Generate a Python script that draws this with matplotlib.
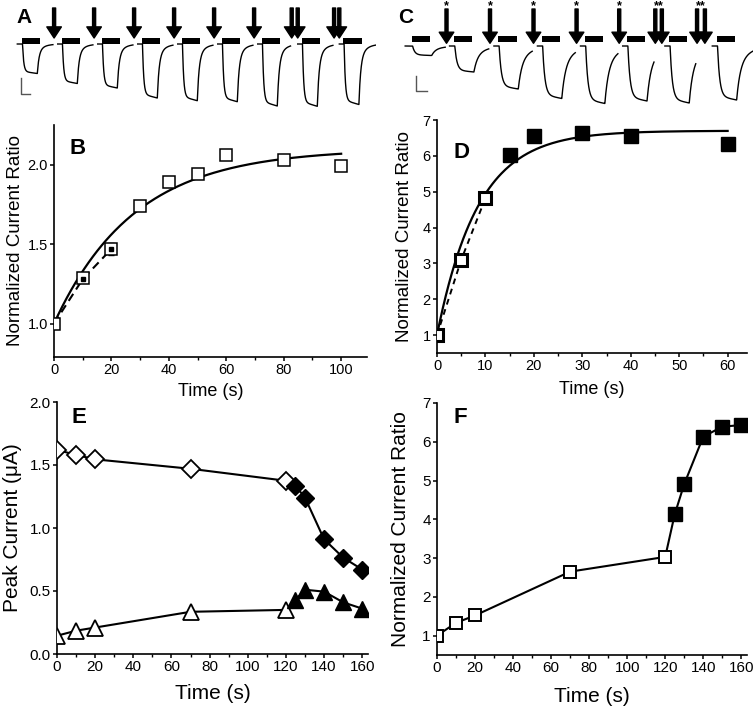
import numpy as np
import matplotlib
matplotlib.use("Agg")
import matplotlib.pyplot as plt
from matplotlib.ticker import MultipleLocator, FormatStrFormatter

plt.rcParams["font.family"] = ["Liberation Sans", "DejaVu Sans"]

# ---------------- data ----------------
# A / C: current traces, one entry per agonist application (depth in trace units)
a_onset = [0, 1, 2, 3, 4, 5, 6, 7, 8.04]
a_depth = [29.5, 39.5, 44, 54, 56.7, 57.7, 62, 62.3, 60.5]
a_pulses = [[-0.19], [-0.19], [-0.19], [-0.19], [-0.19], [-0.19], [-0.25, -0.10], [-0.23, -0.10]]

c_onset = [0, 0.97, 1.99, 2.99, 3.98, 4.95, 5.92, 7.01]
c_depth = [9.5, 26, 43, 52.5, 57.5, 55, 57, 54]
c_pulses = [[-0.17], [-0.19], [-0.19], [-0.19], [-0.18], [-0.32, -0.17], [-0.45, -0.27]]

# B
b_t = [0, 10, 20, 30, 40, 50, 60, 80, 100]
b_ratio = [1.0, 1.29, 1.47, 1.74, 1.89, 1.94, 2.06, 2.03, 1.99]
b_init_t = [0, 10, 20]
b_init_ratio = [1.0, 1.28, 1.47]
b_init_err = [0.0, 0.02, 0.04]
b_fit_amp, b_fit_tau = 1.10, 28.0

# D
d_t = [0, 5, 10, 15, 20, 30, 40, 60]
d_ratio = [1.0, 3.1, 4.82, 6.03, 6.56, 6.63, 6.56, 6.32]
d_fit_amp, d_fit_tau = 5.7, 8.5

# E / F
ef_t = [0, 10, 20, 70, 120, 125, 130, 140, 150, 160]
e_diamond = [1.62, 1.58, 1.545, 1.47, 1.375, 1.335, 1.24, 0.91, 0.765, 0.67]
e_triangle = [0.145, 0.185, 0.21, 0.335, 0.35, 0.43, 0.51, 0.495, 0.41, 0.36]
f_ratio = [1.0, 1.33, 1.52, 2.65, 3.03, 4.13, 4.91, 6.13, 6.39, 6.43]
n_open = 5

W, H = 753, 709
fig = plt.figure(figsize=(W / 100, H / 100), dpi=100)


def px_axes(l, r, t, b):
    return fig.add_axes([l / W, 1 - b / H, (r - l) / W, (b - t) / H])


def sweep(u, depth, t_off, tau_on, tau_fast, tau_slow, frac_fast):
    y = np.zeros_like(u)
    on = (u >= 0) & (u < t_off)
    y[on] = -depth * (1 - np.exp(-u[on] / tau_on)) * (0.93 + 0.07 * u[on] / t_off)
    off = u >= t_off
    y_end = -depth * (1 - np.exp(-t_off / tau_on))
    du = u[off] - t_off
    y[off] = y_end * (frac_fast * np.exp(-du / tau_fast) + (1 - frac_fast) * np.exp(-du / tau_slow))
    return y


def draw_traces(ax, onset, depth, pulses, bar_w, bar_y, arrow_y, seg, shape, stars):
    for i, (s, d) in enumerate(zip(onset, depth)):
        end = onset[i + 1] + min(pulses[i]) - 0.03 if i + 1 < len(onset) else ax.get_xlim()[1]
        start = s + seg[0] if i == 0 else s - 0.1
        t = np.linspace(start, end, 400)
        ax.plot(t, sweep(t - s - 0.02, d, *shape), color="black", lw=1.0)
        ax.add_patch(plt.Rectangle((s, bar_y[0]), bar_w, bar_y[1] - bar_y[0], color="black", lw=0))
    for i, pl in enumerate(pulses):
        for p in pl:
            x = onset[i + 1] + p
            ax.annotate("", xy=(x, arrow_y[1]), xytext=(x, arrow_y[0]),
                        arrowprops=dict(facecolor="black", edgecolor="black", width=2.2,
                                        headwidth=10.5, headlength=8, shrink=0))
        if stars:
            xm = onset[i + 1] + np.mean(pl)
            ax.text(xm, arrow_y[0] + 3.2, "*" * len(pl), ha="center", va="center", fontsize=9,
                    fontweight="bold")


# ---------------- A ----------------
axA = px_axes(0, 376, 0, 110)
axA.set_xlim(-0.5425, 8.8575); axA.set_ylim(-66, 44); axA.axis("off")
draw_traces(axA, a_onset, a_depth, a_pulses, 0.46, (0, 6), (36, 6), (-0.11,),
            (0.37, 0.03, 0.045, 0.16, 0.75), False)
axA.plot([-0.02, -0.02, 0.21], [-34, -50, -50], color="#555555", lw=1.0)
axA.text(0.045, 0.93, "A", transform=axA.transAxes, fontsize=15, fontweight="bold", va="top")

# ---------------- C ----------------
axC = px_axes(380, 753, 0, 110)
axC.set_xlim(-0.729, 7.846); axC.set_ylim(-64, 46); axC.axis("off")
draw_traces(axC, c_onset, c_depth, c_pulses, 0.42, (4, 10), (37, 2.7), (-0.15,),
            (0.44, 0.05, 0.08, 0.25, 0.6), True)
axC.plot([0.09, 0.09, 0.36], [-30, -44.5, -44.5], color="#555555", lw=1.0)
axC.text(0.049, 0.93, "C", transform=axC.transAxes, fontsize=15, fontweight="bold", va="top")


def style(ax, xmaj, xmin, ymaj, fs):
    for s in ("top", "right"):
        ax.spines[s].set_visible(False)
    for s in ("left", "bottom"):
        ax.spines[s].set_linewidth(1.2)
    ax.xaxis.set_major_locator(MultipleLocator(xmaj))
    ax.xaxis.set_minor_locator(MultipleLocator(xmin))
    ax.yaxis.set_major_locator(MultipleLocator(ymaj))
    ax.tick_params(which="major", direction="out", length=3, width=1.1, labelsize=fs, pad=1.5)
    ax.tick_params(which="minor", direction="out", length=2, width=1.0)


def labels(ax, xl, yl, fs_x, fs_y, ylx, xly):
    ax.set_xlabel(xl, fontsize=fs_x, va="top")
    ax.set_ylabel(yl, fontsize=fs_y)
    ax.yaxis.set_label_coords(ylx, 0.5)
    ax.xaxis.set_label_coords(0.5, xly)


# ---------------- B ----------------
axB = px_axes(54, 367, 125, 357)
tt = np.linspace(0, 100, 200)
axB.plot(tt, 1 + b_fit_amp * (1 - np.exp(-tt / b_fit_tau)), color="black", lw=1.6, zorder=2)
axB.errorbar(b_init_t, b_init_ratio, yerr=b_init_err, color="black", ls=(0, (4, 2.5)), lw=1.5,
             capsize=2, elinewidth=0.8, zorder=2)
axB.plot(b_t, b_ratio, "s", ms=9, mfc="white", mec="black", mew=1.1, zorder=3)
axB.plot(b_init_t[1:], b_init_ratio[1:], "s", ms=3.5, color="black", zorder=4)
axB.set_xlim(0, 109); axB.set_ylim(0.79, 2.25)
style(axB, 20, 10, 0.5, 10.5)
axB.yaxis.set_major_formatter(FormatStrFormatter("%.1f"))
labels(axB, "Time (s)", "Normalized Current Ratio", 13, 13.5, -0.095, -0.11)
axB.text(0.05, 0.945, "B", transform=axB.transAxes, fontsize=16, fontweight="bold", va="top")

# ---------------- D ----------------
axD = px_axes(437, 747, 120, 353)
tt = np.linspace(0, 60, 200)
axD.plot(tt, 1 + d_fit_amp * (1 - np.exp(-tt / d_fit_tau)), color="black", lw=1.6, zorder=2)
axD.plot(d_t[:3], d_ratio[:3], color="black", ls=(0, (3, 2.5)), lw=1.4, zorder=2)
axD.plot(d_t[:3], d_ratio[:3], "s", ms=8, mfc="white", mec="black", mew=2.2, zorder=3)
axD.plot(d_t[3:], d_ratio[3:], "s", ms=10, color="black", zorder=3)
axD.set_xlim(0, 64); axD.set_ylim(0.5, 7)
style(axD, 10, 5, 1, 10.5)
labels(axD, "Time (s)", "Normalized Current Ratio", 13, 13.5, -0.077, -0.12)
axD.text(0.052, 0.905, "D", transform=axD.transAxes, fontsize=16, fontweight="bold", va="top")

# ---------------- E ----------------
axE = px_axes(57, 368, 402, 654)
axE.plot(ef_t, e_diamond, color="black", lw=1.5, zorder=2)
axE.plot(ef_t, e_triangle, color="black", lw=1.5, zorder=2)
axE.plot(ef_t[:n_open], e_diamond[:n_open], "D", ms=9, mfc="white", mec="black", mew=1.3, zorder=3)
axE.plot(ef_t[n_open:], e_diamond[n_open:], "D", ms=9.5, color="black", zorder=3)
axE.plot(ef_t[:n_open], e_triangle[:n_open], "^", ms=11, mfc="white", mec="black", mew=1.3, zorder=3)
axE.plot(ef_t[n_open:], e_triangle[n_open:], "^", ms=11, color="black", zorder=3)
axE.set_xlim(0, 163); axE.set_ylim(0, 2.0)
style(axE, 20, 10, 0.5, 11)
axE.yaxis.set_major_formatter(FormatStrFormatter("%.1f"))
labels(axE, "Time (s)", "Peak Current (\u03bcA)", 15, 15, -0.113, -0.12)
axE.text(0.048, 0.98, "E", transform=axE.transAxes, fontsize=16, fontweight="bold", va="top")

# ---------------- F ----------------
axF = px_axes(437, 747, 403, 655)
axF.plot(ef_t, f_ratio, color="black", lw=1.5, zorder=2)
axF.plot(ef_t[:n_open], f_ratio[:n_open], "s", ms=8.5, mfc="white", mec="black", mew=1.4, zorder=3)
axF.plot(ef_t[n_open:], f_ratio[n_open:], "s", ms=9.5, color="black", zorder=3)
axF.set_xlim(0, 163); axF.set_ylim(0.5, 7)
style(axF, 20, 10, 1, 11)
labels(axF, "Time (s)", "Normalized Current Ratio", 15, 15, -0.087, -0.125)
axF.text(0.052, 0.985, "F", transform=axF.transAxes, fontsize=16, fontweight="bold", va="top")

fig.savefig("out.png", dpi=100)
